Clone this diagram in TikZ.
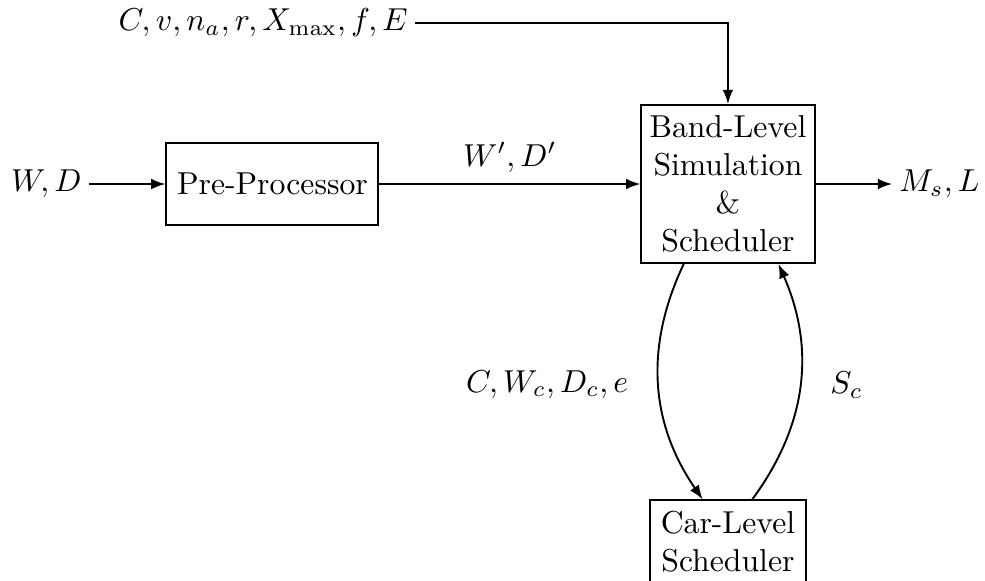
\documentclass[tikz,border=0pt]{standalone}
\usepackage{amsmath}
\usepackage{tikz}
\usetikzlibrary{arrows.meta, positioning}

\begin{document}
\begin{tikzpicture}[semithick, >={Latex[length=4.5pt]},
	block/.style={draw, align=center},
	io/.style={inner sep=2pt}]
	\useasboundingbox (0,0) rectangle (10.92,-6.44);
	\node[block, minimum height=0.9cm] (pre) at (3.02,-2.04) {Pre-Processor};
	\node[block, inner xsep=2.6pt] (band) at (8.07,-2.04) {Band-Level\\Simulation\\\&\\Scheduler};
	\node[block, below=2.61cm of band] (car) {Car-Level\\Scheduler};
	\node[io, left=0.85cm of pre] (wd) {$W, D$};
	\node[io, right=0.85cm of band] (out) {$M_s, L$};
	\node[io, anchor=east] (params) at (4.6,-0.255) {$C, v, n_a, r, X_{\max}, f, E$};
	
	\draw[->] (wd) -- (pre);
	\draw[->] (pre) -- node[above] {$W', D'$} (band);
	\draw[->] (band) -- (out);
	\draw[->] (params.east) -| (band.north);
	\draw[->] ([xshift=-0.49cm]band.south) to[bend right=30] node[left=6pt] {$C, W_c, D_c, e$} ([xshift=-0.28cm]car.north);
	\draw[->] ([xshift=0.27cm]car.north) to[bend right=30] node[right=6pt] {$S_c$} ([xshift=0.56cm]band.south);
\end{tikzpicture}
\end{document}
